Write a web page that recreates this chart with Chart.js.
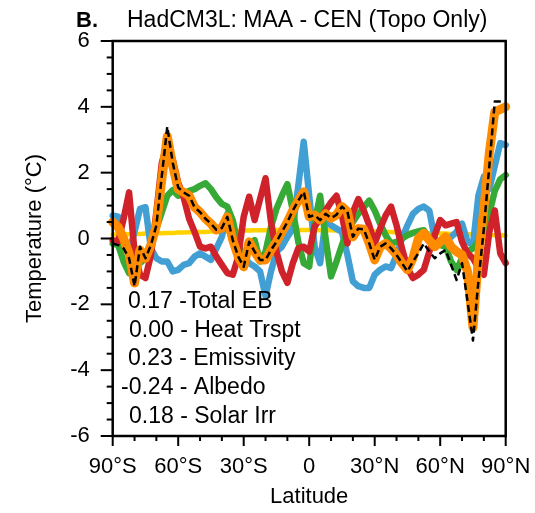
<!DOCTYPE html>
<html>
<head>
<meta charset="utf-8">
<script src="https://cdn.jsdelivr.net/npm/chart.js@4.4.1/dist/chart.umd.min.js"></script>
<style>
html,body{margin:0;padding:0;background:#fff;}
canvas{display:block;}
</style>
</head>
<body>
<canvas id="c" width="535" height="513"></canvas>
<script>
// Latitude grid (degrees, 2.5° spacing)
const latitudes = [-90,-87.5,-85,-82.5,-80,-77.5,-75,-72.5,-70,-67.5,-65,-62.5,-60,-57.5,-55,-52.5,-50,-47.5,-45,-42.5,-40,-37.5,-35,-32.5,-30,-27.5,-25,-22.5,-20,-17.5,-15,-12.5,-10,-7.5,-5,-2.5,0,2.5,5,7.5,10,12.5,15,17.5,20,22.5,25,27.5,30,32.5,35,37.5,40,42.5,45,47.5,50,52.5,55,57.5,60,62.5,65,67.5,70,72.5,75,77.5,80,82.5,85,87.5,90];

// Series values (°C)
const totalEB = [-0.15,-0.2,-0.3,-0.6,-1.45,-0.25,-0.6,-0.2,0.4,1.9,
  3.4,2.3,1.55,1.4,1.3,0.95,0.8,0.6,0.45,0.26,
  0.32,0.66,-0.05,-0.55,-0.86,-0.1,-0.4,-0.65,-0.65,-0.35,
  -0.1,0.2,0.5,0.85,1.15,1.42,0.66,0.71,0.56,0.75,
  0.62,0.72,0.97,0.82,0.05,0.3,0.28,-0.15,-0.65,-0.25,
  -0.15,-0.3,-0.5,-0.75,-1.0,-0.7,-0.45,-0.15,-0.4,-0.6,
  -0.45,-0.35,-0.8,-1.26,-0.75,-1.9,-3.1,-1.3,0.3,2.2,
  4.16,4.16,4.16];
const sumComponents = [0.5,0.35,0.0,-0.45,-1.35,-0.35,-0.6,-0.2,0.4,1.8,
  3.1,2.2,1.5,1.4,1.3,0.95,0.8,0.6,0.45,0.26,
  0.32,0.66,-0.05,-0.55,-0.86,-0.1,-0.4,-0.65,-0.65,-0.35,
  -0.1,0.2,0.5,0.85,1.15,1.42,0.66,0.71,0.56,0.75,
  0.62,0.72,0.97,0.82,0.05,0.3,0.28,-0.15,-0.65,-0.25,
  -0.15,-0.3,-0.5,-0.75,-0.95,-0.6,0.0,0.16,-0.05,-0.25,
  -0.1,0.05,-0.25,-0.4,-0.5,-1.0,-2.7,-0.6,0.9,2.6,
  3.85,3.92,4.0];
const heatTrspt = [-0.05,-0.1,0.6,1.4,-0.4,-1.1,-1.2,-0.5,0.8,2.3,
  2.9,2.4,1.7,1.25,0.6,0.2,-0.25,-0.3,-0.25,-0.55,
  -0.8,-1.05,-1.1,-0.55,0.66,1.27,0.56,1.2,1.83,0.5,
  -0.4,-1.0,-1.35,-0.75,-0.3,-0.25,-0.4,0.36,0.6,0.85,
  1.1,1.3,0.7,-0.15,0.8,1.2,0.85,0.4,-0.15,0.3,
  0.7,0.97,0.4,-0.3,-0.9,-1.2,-1.1,-0.95,-0.4,0.1,
  0.56,0.4,0.45,0.5,-0.1,-0.45,-0.6,-0.9,-1.1,0.2,
  0.85,-0.45,-0.75];
const emissivity = [-0.15,-0.2,-0.7,-1.05,-0.95,-0.75,-0.6,-0.15,0.3,0.8,
  1.3,1.47,1.3,1.35,1.45,1.5,1.6,1.68,1.5,1.25,
  1.05,0.97,0.55,-0.2,-0.65,-0.35,-0.05,-0.7,-0.4,0.35,
  0.9,1.3,1.65,0.85,-0.1,-0.75,-0.85,0.5,1.3,0.0,
  -1.15,-0.7,-0.2,0.25,0.5,0.75,0.95,1.15,0.85,0.45,
  0.1,-0.15,-0.1,0.0,0.1,0.17,0.22,0.25,0.0,-0.2,
  -0.2,-0.25,-0.7,-0.96,-0.6,-0.4,-0.3,-0.1,0.25,0.75,
  1.45,1.8,1.93];
const albedo = [0.7,0.66,-0.1,-0.4,0.2,0.9,0.95,-0.3,-0.6,-0.7,
  -0.7,-1.0,-0.95,-0.8,-0.75,-0.55,-0.45,-0.55,-0.65,-0.3,
  0.05,0.75,0.36,-0.2,-0.55,-0.75,-0.85,-1.0,-1.75,-1.0,
  -0.4,-0.25,0.05,0.3,1.6,2.94,1.3,-0.25,-0.75,0.56,
  0.4,0.3,0.2,-0.5,-1.3,-1.45,-1.5,-1.5,-1.1,-0.95,
  -0.85,-0.9,-0.5,0.0,0.4,0.75,0.9,0.97,0.85,0.0,
  -0.15,-0.1,0.05,0.2,0.45,-0.1,-0.2,1.3,1.88,1.5,
  2.2,2.9,2.84];
const solarIrr = [0.12,0.12,0.13,0.13,0.14,0.14,0.15,0.15,0.16,
  0.16,0.17,0.17,0.18,0.18,0.19,0.19,0.2,0.2,0.21,0.21,0.22,
  0.22,0.23,0.23,0.24,0.24,0.25,0.25,0.25,0.26,0.26,0.26,0.26,0.26,0.26,0.26,0.26,0.26,0.25,0.25,0.25,
  0.24,0.24,0.23,0.23,0.22,0.22,0.21,0.21,0.2,0.2,0.2,0.19,0.19,0.18,0.18,0.17,0.17,0.16,0.16,0.15,
  0.15,0.14,0.14,0.13,0.13,0.12,0.12,0.11,0.11,0.1,0.1,0.09];

// Axis ticks
const xTickValues = [-90,-60,-30,0,30,60,90];
const xTickLabels = ['90°S','60°S','30°S','0','30°N','60°N','90°N'];
const yTickValues = [-6,-4,-2,0,2,4,6];
const yTickLabels = ['-6','-4','-2','0','2','4','6'];

// Annotation text
const annotationLines = ['0.17 -Total EB','0.00 - Heat Trspt','0.23 - Emissivity','-0.24 - Albedo','0.18 - Solar Irr'];
const panelLetter = 'B.';
const titleText = 'HadCM3L: MAA - CEN (Topo Only)';

const FONT = '"Liberation Sans", Arial, Helvetica, sans-serif';

function toXY(arr){ return latitudes.map((lat,i)=>({x:lat,y:arr[i]})); }

const decor = {
  id:'decor',
  afterDraw(chart){
    const {ctx, chartArea:a, scales:{x,y}} = chart;
    ctx.save();
    ctx.strokeStyle = '#000';
    ctx.lineCap = 'butt';
    ctx.lineWidth = 2;
    for (let i = 0; i <= 24; i++) {
      const v = -6 + i*0.5;
      const py = y.getPixelForValue(v);
      const len = (i % 4 === 0) ? 12 : 6;
      ctx.beginPath(); ctx.moveTo(a.left - len, py); ctx.lineTo(a.left, py); ctx.stroke();
    }
    for (let i = 0; i <= 18; i++) {
      const v = -90 + i*10;
      const px = x.getPixelForValue(v);
      const len = (i % 3 === 0) ? 10 : 5;
      ctx.beginPath(); ctx.moveTo(px, a.bottom); ctx.lineTo(px, a.bottom + len); ctx.stroke();
    }
    ctx.lineWidth = 2.5;
    ctx.strokeRect(a.left, a.top, a.right - a.left, a.bottom - a.top);
    ctx.fillStyle = '#000';
    ctx.textAlign = 'left';
    ctx.textBaseline = 'alphabetic';
    ctx.font = '23px ' + FONT;
    const ax = [128, 129, 128, 121, 129];
    const ay = [308, 336.5, 365, 394, 423];
    annotationLines.forEach((t,i)=>ctx.fillText(t, ax[i], ay[i]));
    ctx.font = 'bold 22px ' + FONT;
    ctx.fillText(panelLetter, 76, 27);
    ctx.font = '23px ' + FONT;
    ctx.fillText(titleText, 127, 27);
    ctx.restore();
  }
};

const common = {pointRadius:0, pointHoverRadius:0, tension:0, fill:false, borderJoinStyle:'round', borderCapStyle:'round', clip:false};

new Chart(document.getElementById('c'), {
  type:'line',
  data:{
    datasets:[
      Object.assign({label:'Total EB', data:toXY(totalEB), borderColor:'#000000', borderWidth:2.5, borderDash:[7,4], order:0}, common, {borderCapStyle:'butt'}),
      Object.assign({label:'Sum', data:toXY(sumComponents), borderColor:'#ff8c00', borderWidth:9, order:1}, common),
      Object.assign({label:'Heat Trspt', data:toXY(heatTrspt), borderColor:'#d0222a', borderWidth:6.5, order:2}, common),
      Object.assign({label:'Emissivity', data:toXY(emissivity), borderColor:'#36a936', borderWidth:6.5, order:3}, common),
      Object.assign({label:'Albedo', data:toXY(albedo), borderColor:'#429fd3', borderWidth:6.5, order:4}, common),
      Object.assign({label:'Solar Irr', data:toXY(solarIrr), borderColor:'#ffd200', borderWidth:4.5, order:5}, common)
    ]
  },
  options:{
    responsive:false,
    animation:false,
    devicePixelRatio:1,
    layout:{padding:{top:41, right:29.3, left:0, bottom:0}},
    plugins:{legend:{display:false}, tooltip:{enabled:false}, title:{display:false}},
    scales:{
      x:{
        type:'linear', min:-90, max:90,
        grid:{display:false, drawTicks:false},
        border:{display:false},
        ticks:{stepSize:30, padding:18, color:'#000', font:{family:FONT, size:22},
          callback:(v)=>{const i = xTickValues.indexOf(v); return i>=0 ? xTickLabels[i] : '';},
          maxRotation:0, autoSkip:false},
        title:{display:true, text:'Latitude', color:'#000', font:{family:FONT, size:22}, padding:{top:0,bottom:3}},
        afterFit:(s)=>{s.height = 77; s.paddingLeft = 0; s.paddingRight = 0;}
      },
      y:{
        type:'linear', min:-6, max:6,
        grid:{display:false, drawTicks:false},
        border:{display:false},
        ticks:{stepSize:2, padding:23, color:'#000', font:{family:FONT, size:22},
          callback:(v)=>{const i = yTickValues.indexOf(v); return i>=0 ? yTickLabels[i] : '';}},
        title:{display:true, text:'Temperature (°C)', color:'#000', font:{family:FONT, size:22}, padding:{top:22,bottom:0}},
        afterFit:(s)=>{s.width = 112.7; s.paddingTop = 0; s.paddingBottom = 0;}
      }
    }
  },
  plugins:[decor]
});
</script>
</body>
</html>
